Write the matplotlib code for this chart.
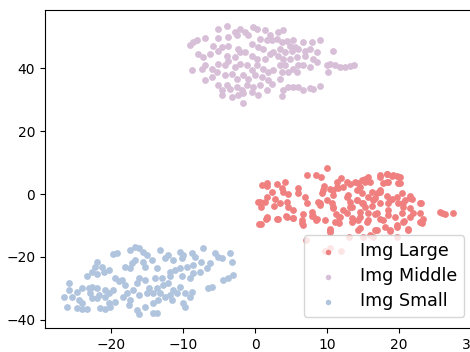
import matplotlib
matplotlib.use("Agg")
import matplotlib.pyplot as plt

# t-SNE style embedding
large_x = [9.95, 7.27, 8.47, 9.12, 11.90, 0.93, 1.62, 1.71, 3.10, 4.17, 3.70, 3.94, 4.63, 6.02, 6.02,
           2.31, 1.62, 0.46, 1.39, 2.78, 3.47, 4.40, 4.63, 5.32, 6.94, 7.18, 2.64, 0.79, 1.62, 1.53,
           0.79, 3.24, 4.31, 5.23, 6.71, 6.48, 6.71, 7.87, 8.10, 8.80, 9.03, 8.56, 9.72, 9.26, 9.40,
           9.58, 10.42, 10.79, 10.65, 10.88, 11.25, 11.71, 11.71, 11.34, 11.44, 12.27, 12.82, 13.19, 12.87, 13.19,
           12.27, 13.43, 10.42, 10.42, 13.43, 13.43, 7.08, 10.42, 9.77, 11.90, 13.10, 15.0, 16.4, 19.7,
           15.74, 14.81, 14.35, 15.28, 17.36, 18.29, 19.00, 19.68, 18.52, 17.82, 19.91, 17.36, 16.90, 16.20,
           14.81, 14.12, 16.67, 15.74, 14.81, 14.12, 18.29, 18.98, 20.37, 21.53, 21.85, 20.83, 23.06, 15.28,
           16.20, 17.36, 18.52, 19.91, 20.60, 21.53, 14.58, 15.74, 16.67, 18.52, 18.52, 20.37, 22.92, 14.35,
           15.74, 17.36, 19.44, 20.74, 21.53, 23.36, 23.15, 14.58, 16.67, 18.06, 18.75, 19.68, 21.30, 25.69,
           26.39, 27.55, 26.02,
           10.88, 11.57, 12.73, 13.89, 14.58, 15.28, 15.97, 17.36, 18.29, 19.21, 20.14, 20.14, 18.29, 17.36,
           16.44, 15.05, 14.12, 13.19, 12.73, 13.66, 14.58, 15.51, 16.90, 17.82, 18.75, 19.68, 20.60, 21.30,
           22.92, 21.99, 22.92, 21.53, 20.60, 19.68, 18.75, 9.95, 9.03, 10.88, 11.81, 11.11, 10.42, 14.35,
           15.97, 16.90, 0.69, 0.60, 1.62, 3.00, 4.40, 5.30, 6.50, 7.90, 8.50]
large_y = [8.47, 6.24, 6.03, 5.50, 5.29, 2.86, 3.60, 2.54, 3.17, 3.92, 1.80, 0.74, 0.00, 1.80, 0.21,
           0.74, -1.06, -2.43, -2.43, -1.69, -2.96, -2.43, -4.02, -5.08, -0.85, -2.96, -3.81, -4.02, -7.20, -8.04,
           -9.52, -8.04, -6.98, -7.72, -6.35, -8.25, -9.84, -5.61, -6.98, -2.43, -3.49, -8.04, -8.25, 0.21, 1.27,
           2.54, 1.48, -0.32, -2.96, -4.55, -6.35, -7.41, -9.10, 2.33, 3.92, 2.33, 3.92, 3.17, -0.32, -2.43,
           -4.97, -4.02, -11.22, -12.06, -7.72, -8.78, -14.6, -17.25, -18.0, -18.0, -13.8, -13.8, -13.5, -13.5,
           5.50, 4.44, 3.39, 3.92, 5.50, 6.35, 5.71, 5.71, 3.92, 3.39, 3.60, 1.27, 0.21, 0.74,
           0.21, 1.27, -1.38, -1.06, -2.75, -1.90, -0.63, -1.69, 0.21, -0.63, -1.69, -1.90, -2.96, -4.02,
           -3.81, -2.96, -2.75, -2.96, -4.02, -4.55, -5.61, -5.93, -6.35, -5.08, -6.67, -6.14, -5.93, -8.25,
           -8.25, -8.04, -7.41, -8.47, -7.20, -8.04, -9.31, -10.90, -11.43, -10.37, -11.64, -9.84, -11.22, -5.61,
           -6.35, -5.93, -5.93,
           1.27, 1.80, -0.85, 3.92, 2.33, 4.97, 3.92, 6.03, 6.56, 6.03, 5.50, 3.60, 3.92, 0.74,
           -1.90, -2.96, -1.90, -4.02, -6.14, -8.25, -7.20, -8.78, -6.14, -8.25, -11.43, -10.37, -8.78, -11.43,
           -8.78, -6.14, -2.96, -1.38, -2.96, -0.85, -1.90, -1.90, -2.96, -4.02, -7.20, -8.78, -11.43, -11.43,
           -13.02, -11.43, -2.43, -9.50, -7.72, -8.00, -7.20, -7.70, -9.30, -7.00, -8.30]

middle_x = [-8.56, -8.10, -9.03, -6.94, -5.09, -3.94, -2.78, -2.08, -1.39, -0.23, 0.23, 1.39, 2.08, 2.31,
            -5.09, -3.70, -2.55, -0.93, 0.69, 1.62, -5.79, -4.63, -3.70, -2.31, -2.08, -0.46, 0.46, 1.16,
            -7.87, -7.18, -6.25, -5.09, -3.94, -3.70, -2.78, -1.39, -0.46, 0.23, 1.39, 2.08, 2.55,
            -8.80, -7.41, -6.94, -6.02, -5.09, -4.17, -2.78, -2.08, -1.16, -0.46, 0.23, 1.16, 1.85, 2.55,
            -6.94, -6.02, -5.32, -4.17, -3.24, -2.55, -1.62, -0.93, 0.00, 0.93, 1.85,
            -5.09, -4.63, -3.94, -3.47, -2.55, -1.85, -1.16, -0.23, 0.69, 1.62, 2.31,
            -4.63, -3.24, -2.31, -1.62, -0.46, 0.46, -1.62,
            3.24, 3.94, 3.01, 3.70, 4.40, 4.86, 5.32, 5.56, 6.71, 7.87, 9.03, 3.47, 4.17, 5.09, 6.02,
            6.94, 7.64, 8.56, 10.88, 3.24, 3.94, 4.86, 5.79, 6.94, 8.10, 8.56, 3.47, 4.17, 5.32, 6.02,
            6.71, 7.64, 9.95, 10.42, 11.11, 11.81, 12.50, 13.19, 13.80, 3.70, 4.63, 5.79, 10.19, 3.47,
            4.63, 5.32, 6.02, 6.71, 7.64, 8.10, 9.03, 3.94, 3.70]
middle_y = [48.4, 48.9, 47.5, 49.6, 52.6, 53.4, 51.7, 52.6, 51.7, 53.1, 52.6, 52.1, 50.5, 48.9,
            49.6, 49.9, 50.5, 50.5, 49.4, 48.9, 47.3, 46.8, 47.3, 46.2, 45.2, 47.8, 46.8, 46.2,
            44.7, 43.6, 44.7, 45.7, 44.1, 42.5, 43.6, 45.2, 44.1, 43.1, 43.1, 44.7, 45.2,
            39.4, 39.9, 41.0, 39.9, 41.5, 41.0, 40.4, 41.5, 41.0, 39.4, 41.0, 39.9, 38.8, 39.4,
            36.2, 37.2, 38.8, 37.8, 38.3, 36.7, 37.8, 36.7, 37.8, 37.2, 36.2,
            34.6, 33.0, 34.6, 33.5, 34.1, 33.0, 34.6, 34.1, 34.6, 33.0, 35.1,
            31.4, 30.9, 31.4, 32.3, 32.5, 31.4, 29.1,
            51.5, 52.1, 49.4, 48.4, 48.6, 47.3, 48.9, 46.8, 48.4, 48.4, 49.2, 46.2, 45.2, 45.7, 46.2,
            45.7, 46.2, 45.2, 45.4, 44.1, 43.1, 43.1, 43.6, 44.1, 43.1, 42.0, 41.0, 41.0, 39.9, 41.0,
            41.0, 40.4, 41.0, 41.5, 41.0, 40.4, 40.4, 40.7, 41.0, 38.8, 38.8, 38.8, 39.0, 36.7,
            34.1, 34.1, 34.1, 33.0, 33.8, 33.5, 34.4, 33.0, 31.2]

small_x = [-16.67, -16.20, -17.36, -15.51, -15.05, -19.21, -19.68, -21.99, -22.22, -21.30, -20.37, -22.69,
           -23.38, -21.99, -21.06, -18.06, -17.13, -17.36, -16.67, -15.51, -15.28, -19.44, -18.52, -18.98,
           -18.06, -16.20, -15.28, -16.44, -25.93, -25.93, -26.62, -25.46, -24.77, -24.07, -23.15, -22.69,
           -21.99, -22.92, -22.69, -21.99, -21.76, -20.83, -20.83, -20.37, -19.68, -24.54, -24.07, -26.16,
           -24.77, -24.07, -23.38, -21.53, -20.83, -20.37, -20.14, -19.44, -18.29, -17.82, -17.36, -17.59,
           -16.90, -16.20, -16.44, -16.20, -15.05, -14.81, -15.28,
           -13.19, -14.35, -13.66, -13.89, -12.96, -12.50, -12.04, -11.34, -10.42, -9.95, -10.19, -8.80,
           -8.33, -7.29, -7.52, -8.68, -9.49, -10.42, -11.11, -11.81, -6.25, -6.71, -7.64, -8.56, -9.03,
           -10.19, -11.81, -5.56, -5.09, -4.63, -3.47, -3.24, -4.40, -3.70, -3.01, -6.48, -6.02, -10.42,
           -12.73, -12.04, -11.34, -10.88, -9.72, -8.80, -9.03, -11.81, -12.50, -13.19, -13.66, -14.12,
           -14.12, -13.43, -11.57, -9.95, -9.72, -14.12, -13.66]
small_y = [-16.7, -17.2, -17.8, -18.3, -19.4, -18.8, -19.2, -21.5, -23.1, -23.1, -24.1, -24.7,
           -26.2, -25.5, -24.7, -23.1, -22.0, -23.6, -21.0, -21.5, -23.1, -26.8, -27.3, -27.8,
           -28.9, -26.8, -27.3, -28.4, -28.4, -30.5, -32.6, -32.6, -31.0, -29.9, -29.9, -29.4,
           -29.9, -31.5, -33.1, -33.1, -32.0, -30.5, -32.6, -31.5, -30.5, -33.7, -34.7, -35.8,
           -36.3, -36.5, -36.5, -36.1, -36.5, -34.7, -35.8, -34.2, -32.6, -31.5, -33.7, -35.2,
           -30.5, -32.0, -36.8, -38.2, -31.5, -29.9, -35.8,
           -17.8, -20.9, -23.6, -26.8, -26.8, -20.4, -19.4, -21.0, -18.3, -19.4, -20.4, -18.8,
           -19.9, -17.2, -21.5, -22.5, -23.1, -23.6, -24.1, -24.7, -22.0, -23.6, -24.7, -25.2, -26.8,
           -26.2, -26.2, -18.8, -19.9, -20.4, -18.8, -21.5, -27.3, -26.8, -25.7, -29.9, -29.4, -29.4,
           -28.9, -28.4, -30.5, -31.5, -31.5, -31.0, -32.6, -32.0, -32.6, -31.5, -29.9, -31.5,
           -34.7, -33.7, -33.7, -34.7, -35.8, -37.9, -37.9]

fig = plt.figure(figsize=(4.7, 3.52), dpi=100)
ax = fig.add_axes([0.0957, 0.0682, 0.914, 0.9034])

ax.scatter(large_x, large_y, s=15, color="lightcoral", label="Img Large")
ax.scatter(middle_x, middle_y, s=15, color="thistle", label="Img Middle")
ax.scatter(small_x, small_y, s=15, color="lightsteelblue", label="Img Small")

ax.set_xlim(-29.2, 30.5)
ax.set_ylim(-42.6, 58.6)
ax.legend(loc="lower right", fontsize=12.6, labelspacing=0.4, markerscale=0.75,
          borderaxespad=0.6)

fig.savefig("out.png", dpi=100)
